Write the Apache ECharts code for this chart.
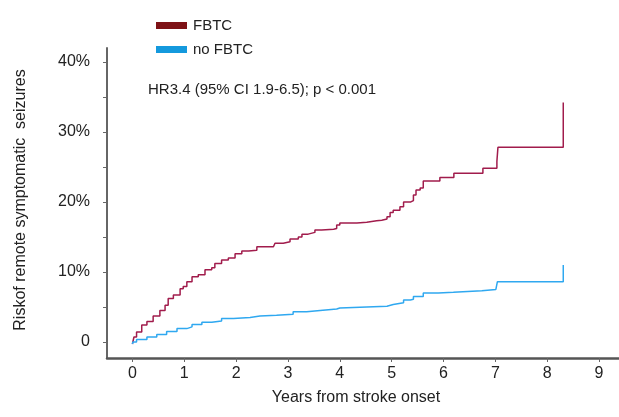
<!DOCTYPE html>
<html>
<head>
<meta charset="utf-8">
<script src="https://cdn.jsdelivr.net/npm/echarts@6/dist/echarts.min.js"></script>
<style>
    html, body { margin: 0; padding: 0; background: #fff; }
    #main { width: 619px; height: 417px; }
</style>
</head>
<body>
<div id="main"></div>
<script>
    // cumulative risk (%) by years from stroke onset
    var fbtcYears = [0, 0.03, 0.08, 0.18, 0.28, 0.4, 0.53, 0.63, 0.69, 0.79, 0.92, 0.98, 1.05, 1.15, 1.27, 1.4, 1.53, 1.59, 1.72, 1.85, 1.98, 2.11, 2.24, 2.4, 2.72, 2.75, 2.91, 3.04, 3.2, 3.27, 3.39, 3.52, 3.65, 3.88, 3.94, 4.0, 4.33, 4.52, 4.71, 4.81, 4.91, 4.97, 5.03, 5.16, 5.23, 5.37, 5.42, 5.47, 5.55, 5.61, 5.93, 6.2, 6.76, 7.03, 7.05, 8.31, 8.31];
    var fbtcRisk = [-0.3, 0.7, 1.4, 2.4, 2.9, 3.7, 4.5, 5.25, 6.2, 6.7, 7.6, 7.9, 8.6, 9.3, 9.6, 10.3, 10.6, 11.2, 11.7, 12.0, 12.6, 13.0, 13.1, 13.6, 13.8, 14.1, 14.3, 14.7, 15.0, 15.4, 15.65, 16.0, 16.1, 16.2, 16.7, 17.0, 17.1, 17.3, 17.4, 17.55, 17.9, 18.5, 18.8, 19.3, 20.0, 20.2, 21.0, 21.7, 22.0, 23.0, 23.5, 24.1, 24.8, 25.8, 27.8, 27.8, 34.2];

    var noFbtcYears = [0, 0.01, 0.08, 0.28, 0.47, 0.66, 0.86, 1.05, 1.15, 1.34, 1.53, 1.72, 1.95, 2.27, 2.46, 2.78, 3.1, 3.36, 3.62, 3.94, 4.0, 4.52, 4.91, 5.03, 5.23, 5.36, 5.42, 5.61, 5.9, 6.19, 6.74, 7.01, 7.04, 8.31, 8.31];
    var noFbtcRisk = [-0.3, 0.0, 0.35, 0.7, 1.05, 1.5, 1.9, 2.15, 2.5, 2.8, 3.0, 3.35, 3.5, 3.7, 3.8, 3.95, 4.3, 4.5, 4.7, 4.85, 5.0, 5.1, 5.35, 5.6, 6.0, 6.1, 6.5, 7.0, 7.1, 7.3, 7.5, 7.7, 8.6, 8.6, 11.0];

    var xTicks = [0, 1, 2, 3, 4, 5, 6, 7, 8, 9];
    var yTicks = [0, 5, 10, 15, 20, 25, 30, 35, 40];
    var yLabels = [0, 10, 20, 30, 40];

    var font = 'Arial, "Liberation Sans", sans-serif';

    function pairs(xs, ys) {
        return xs.map(function (x, i) { return [x, ys[i]]; });
    }

    var chart = echarts.init(document.getElementById('main'));
    chart.setOption({
        animation: false,
        grid: { left: 107, right: 0, top: 48, bottom: 59 },
        legend: {
            orient: 'vertical',
            left: 151,
            top: 13,
            icon: 'rect',
            itemWidth: 31,
            itemHeight: 7,
            itemGap: 9,
            textStyle: { fontFamily: font, fontSize: 15, color: '#222', padding: [0, 0, 0, 1] },
            data: ['FBTC', 'no FBTC']
        },
        graphic: [{
            type: 'text',
            left: 148,
            top: 82,
            style: { text: 'HR3.4 (95% CI 1.9-6.5); p < 0.001', fontFamily: font, fontSize: 15, fill: '#222' }
        }],
        xAxis: {
            type: 'value',
            min: -0.49,
            max: 9.385,
            name: 'Years from stroke onset',
            nameLocation: 'middle',
            nameGap: 32,
            nameTextStyle: { fontFamily: font, fontSize: 16, color: '#222', padding: [0, 14, 0, 0] },
            splitLine: { show: false },
            axisLine: { show: true, onZero: false, lineStyle: { color: '#555', width: 2.5 } },
            axisTick: { show: true, length: 4, customValues: xTicks, lineStyle: { color: '#666', width: 1 } },
            axisLabel: { customValues: xTicks, margin: 8, fontFamily: font, fontSize: 16, color: '#222' }
        },
        yAxis: {
            type: 'value',
            min: -2.3,
            max: 42,
            name: 'Riskof remote symptomatic  seizures',
            nameLocation: 'middle',
            nameGap: 78,
            nameTextStyle: { fontFamily: font, fontSize: 16, color: '#222', padding: [0, 0, 0, 6] },
            splitLine: { show: false },
            axisLine: { show: true, onZero: false, lineStyle: { color: '#666', width: 2 } },
            axisTick: { show: true, length: 4, customValues: yTicks, lineStyle: { color: '#666', width: 1 } },
            axisLabel: {
                customValues: yLabels,
                margin: 17,
                fontFamily: font,
                fontSize: 16,
                color: '#222',
                formatter: function (v) { return v === 0 ? '0' : v + '%'; }
            }
        },
        series: [
            {
                name: 'FBTC',
                type: 'line',
                step: 'end',
                showSymbol: false,
                color: '#7e1216',
                lineStyle: { color: '#a11c4c', width: 1.5 },
                data: pairs(fbtcYears, fbtcRisk)
            },
            {
                name: 'no FBTC',
                type: 'line',
                step: 'end',
                showSymbol: false,
                color: '#1499dd',
                lineStyle: { color: '#2fa8f0', width: 1.5 },
                data: pairs(noFbtcYears, noFbtcRisk)
            }
        ]
    });
</script>
</body>
</html>
